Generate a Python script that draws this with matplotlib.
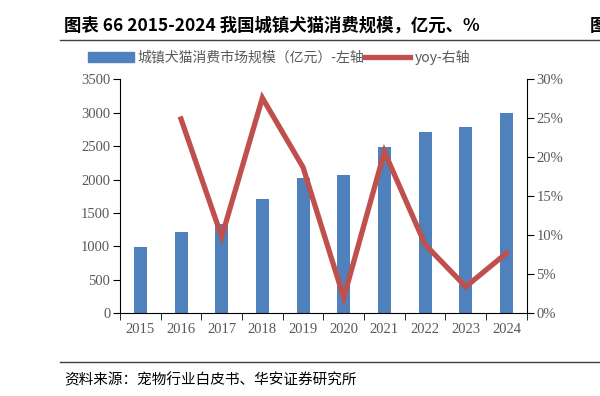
import matplotlib.pyplot as plt
from matplotlib.lines import Line2D
from matplotlib.patches import Patch
from matplotlib.ticker import FuncFormatter

years = ["2015", "2016", "2017", "2018", "2019", "2020", "2021", "2022", "2023", "2024"]
scale = [985, 1220, 1340, 1708, 2024, 2065, 2490, 2710, 2790, 3000]
yoy_years = years[1:]
yoy = [24.9, 9.8, 27.6, 18.7, 2.0, 20.7, 8.8, 3.4, 7.7]

cjk = ["Noto Sans CJK SC", "DejaVu Sans"]
serif = ["Liberation Serif", "DejaVu Serif"]
gray = "#595959"

fig = plt.figure(figsize=(6, 3.96), dpi=100)
ax = fig.add_axes([0.2, 0.209, 0.678, 0.591])
ax2 = ax.twinx()

x = list(range(len(years)))
ax.bar(x, scale, width=0.32, color="#4F81BD", zorder=2)
ax2.plot(x[1:], yoy, color="#C0504D", linewidth=3.8, solid_joinstyle="miter", zorder=3)

ax.set_xlim(-0.5, len(years) - 0.5)
ax.set_ylim(0, 3500)
ax.set_yticks(range(0, 3501, 500))
ax2.set_ylim(0, 30)
ax2.set_yticks(range(0, 31, 5))
ax2.yaxis.set_major_formatter(FuncFormatter(lambda v, p: f"{v:.0f}%"))

ax.set_xticks(x)
ax.set_xticklabels(years)
ax.set_xticks([i + 0.5 for i in range(-1, len(years))], minor=True)
ax.tick_params(axis="x", which="major", length=0, pad=7)
ax.tick_params(axis="x", which="minor", length=5, direction="out")

for a in (ax, ax2):
    for s in ("top",):
        a.spines[s].set_visible(False)
    a.tick_params(axis="y", length=5, direction="out", labelcolor=gray, labelsize=10.5)
    a.tick_params(axis="x", labelcolor=gray, labelsize=10.5)
    for lab in a.get_yticklabels() + a.get_xticklabels():
        lab.set_family(serif)
ax.spines["right"].set_visible(False)
ax2.spines["left"].set_visible(False)
ax2.spines["bottom"].set_visible(False)
ax.tick_params(axis="y", pad=2)
ax2.tick_params(axis="y", pad=2)

handles = [Patch(color="#4F81BD"), Line2D([], [], color="#C0504D", linewidth=3.8)]
labels = ["城镇犬猫消费市场规模（亿元）-左轴", "yoy-右轴"]
fig.legend(handles, labels, loc="center", bbox_to_anchor=(0.465, 0.855), ncol=2, frameon=False,
           prop={"family": cjk, "size": 10}, labelcolor=gray, handlelength=3.3,
           handletextpad=0.3, columnspacing=0.0)

fig.text(0.107, 0.935, "图表 66 2015-2024 我国城镇犬猫消费规模，亿元、%", family=cjk,
         fontsize=12.5, fontweight="bold", va="center")
fig.text(0.983, 0.935, "图", family=cjk, fontsize=12.5, fontweight="bold", va="center")
fig.add_artist(Line2D([0.1, 1.0], [0.898, 0.898], color="#404040", linewidth=1))
fig.add_artist(Line2D([0.1, 1.0], [0.086, 0.086], color="#404040", linewidth=1))
fig.text(0.107, 0.04, "资料来源：宠物行业白皮书、华安证券研究所", family=cjk, fontsize=10.5, va="center")

fig.savefig("out.png", dpi=100)
